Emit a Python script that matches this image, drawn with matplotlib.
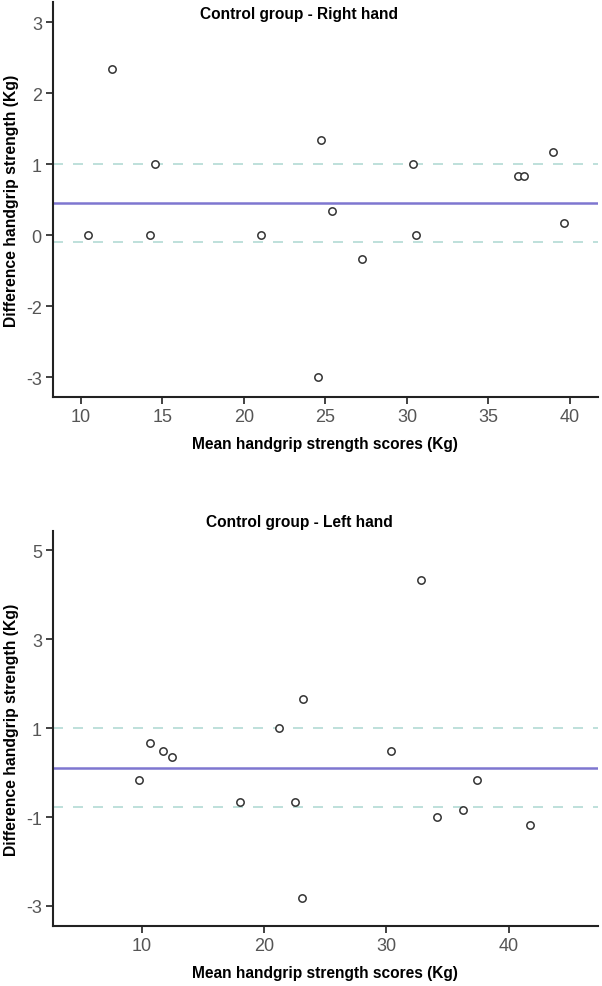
import matplotlib
matplotlib.use("Agg")
import matplotlib.pyplot as plt

plt.rcParams['font.family'] = ['Liberation Sans', 'DejaVu Sans']
plt.rcParams['axes.unicode_minus'] = False

# right hand (y in plotted units; bottom tick labels as printed in the original)
right_x = [10.42, 11.9, 14.23, 14.58, 21.07, 24.76, 24.57, 25.41, 27.22, 30.39, 30.58, 36.83, 37.19, 38.97, 39.65]
right_y = [0.0, 2.34, 0.0, 1.0, 0.0, 1.34, -2.0, 0.34, -0.34, 1.0, 0.0, 0.84, 0.84, 1.17, 0.17]
right_mean = 0.45
right_limits = [1.0, -0.09]
right_yticks = [3, 2, 1, 0, -1, -2]
right_yticklabels = ['3', '2', '1', '0', '-2', '-3']
right_xticks = [10, 15, 20, 25, 30, 35, 40]

# left hand
left_x = [9.72, 10.63, 11.69, 12.48, 18.01, 21.18, 22.5, 23.16, 23.1, 30.41, 32.86, 34.18, 36.28, 37.44, 41.77]
left_y = [-0.17, 0.66, 0.49, 0.34, -0.66, 1.0, -0.66, 1.66, -2.83, 0.49, 4.33, -1.0, -0.84, -0.17, -1.17]
left_mean = 0.1
left_limits = [1.0, -0.77]
left_yticks = [5, 3, 1, -1, -3]
left_xticks = [10, 20, 30, 40]

fig = plt.figure(figsize=(6.02, 9.87), dpi=100)
ax1 = fig.add_axes([0.088, 0.5967, 0.905, 0.400])
ax2 = fig.add_axes([0.088, 0.0608, 0.905, 0.400])


def draw(ax, x, y, mean, lims, xlim, ylim):
    ax.axhline(mean, color='#7e76d0', lw=1.8, zorder=2)
    for l in lims:
        ax.axhline(l, color='#b3dad4', lw=1.2, dashes=(6, 6), zorder=1)
    ax.scatter(x, y, s=28, facecolors='white', edgecolors='#333333', linewidths=1.1, zorder=3)
    ax.set_xlim(xlim)
    ax.set_ylim(ylim)
    for s in ['top', 'right']:
        ax.spines[s].set_visible(False)
    for s in ['left', 'bottom']:
        ax.spines[s].set_linewidth(1.5)
        ax.spines[s].set_color('#222222')
    ax.tick_params(axis='both', length=5, width=1.3, color='#333333', labelsize=13, labelcolor='#555555', pad=3)
    ax.set_xlabel('Mean handgrip strength scores (Kg)', fontsize=11.2, fontweight='bold', labelpad=8)
    ax.set_ylabel('Difference handgrip strength (Kg)', fontsize=11.3, fontweight='bold')
    ax.yaxis.set_label_coords(-0.062, 0.5)


draw(ax1, right_x, right_y, right_mean, right_limits, (8.3, 41.7), (-2.28, 3.28))
ax1.set_yticks(right_yticks)
ax1.set_yticklabels(right_yticklabels)
ax1.set_xticks(right_xticks)

draw(ax2, left_x, left_y, left_mean, left_limits, (2.72, 47.3), (-3.45, 5.43))
ax2.set_yticks(left_yticks)
ax2.set_xticks(left_xticks)

fig.text(0.497, 1 - 14 / 987, 'Control group - Right hand', ha='center', va='center', fontsize=11.2, fontweight='bold')
fig.text(0.497, 1 - 522 / 987, 'Control group - Left hand', ha='center', va='center', fontsize=11.2, fontweight='bold')

fig.savefig('out.png', dpi=100, facecolor='white')
